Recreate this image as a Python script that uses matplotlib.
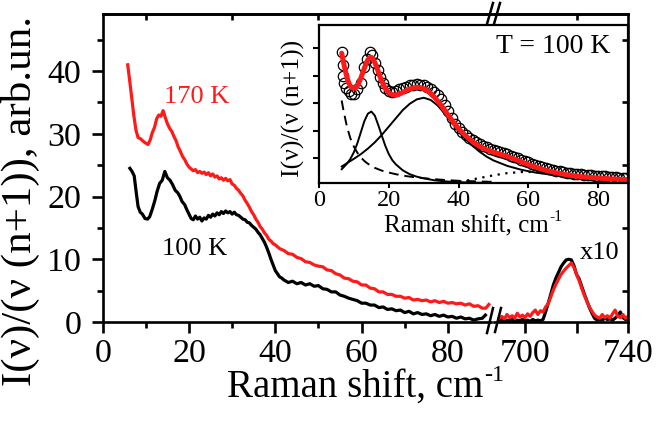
import matplotlib
matplotlib.use("Agg")
import matplotlib.pyplot as plt
from matplotlib.lines import Line2D

plt.rcParams['font.family'] = ['Liberation Serif', 'DejaVu Serif']

# ---------------- main panel data (low-frequency part) ----------------
shift_170 = [5.8, 6.3, 6.7, 7.2, 7.7, 8.2, 8.8, 9.4, 10.0, 10.5, 11.0, 11.5, 12.0, 12.5, 13.0, 13.5,
             14.0, 14.5, 15.0, 15.5, 16.0, 16.5, 17.0, 17.5, 18.0, 18.5, 19.0, 19.5, 20.0, 20.5,
             21, 21.5, 22, 22.5, 23, 23.5, 24, 24.5, 25, 25.5, 26, 26.5, 27, 27.5, 28, 28.5, 29,
             29.5, 30, 30.5, 31, 31.5, 32, 32.5, 33, 33.5, 34, 34.5, 35, 35.5, 36, 36.5, 37, 37.5,
             38, 38.5, 39, 39.5, 40, 41, 42, 43, 44, 45, 46, 47, 48, 49, 50, 51, 52, 53, 54, 55,
             56, 57, 58, 59, 60, 61, 62, 63, 64, 65, 66, 67, 68, 69, 70, 71, 72, 73, 74, 75, 76,
             77, 78, 79, 80, 81, 82, 83, 84, 85, 86, 87, 88, 88.8, 89.5]
int_170 = [41.0, 38.2, 35.9, 33.0, 30.6, 29.4, 29.2, 28.8, 28.5, 28.3, 29.0, 30.2, 31.0, 32.4, 33.0, 32.8,
           33.7, 32.6, 31.6, 30.9, 30.4, 29.6, 28.9, 27.9, 27.2, 26.4, 25.9, 25.2, 24.7, 24.4,
           24.1, 24.3, 23.8, 24.0, 23.7, 23.9, 23.5, 23.8, 23.3, 23.6, 23.1, 23.3, 22.8, 23.0, 22.6,
           22.9, 22.5, 22.7, 22.0, 21.8, 21.3, 21.0, 20.5, 20.1, 19.4, 18.9, 18.3, 17.6, 17.1, 16.4,
           15.9, 15.2, 14.8, 14.2, 13.8, 13.2, 12.9, 12.5, 12.3, 11.7, 11.4, 10.9, 10.8, 10.3, 10.1,
           9.6, 9.5, 9.1, 8.9, 8.8, 8.3, 8.2, 7.7, 7.5, 7.0, 6.9, 6.5, 6.4, 5.9, 5.9, 5.4, 5.3, 4.8,
           4.8, 4.4, 4.4, 4.1, 4.1, 3.8, 3.9, 3.5, 3.6, 3.4, 3.5, 3.2, 3.4, 3.1, 3.3, 3.0, 3.1, 2.9,
           3.0, 2.7, 2.9, 2.5, 2.6, 2.2, 2.2, 2.8]

shift_100 = [6.3, 6.8, 7.3, 7.8, 8.2, 8.7, 9.2, 9.8, 10.4, 10.9, 11.5, 12.1, 12.6, 13.2, 13.8, 14.4,
             15.0, 15.6, 16.2, 16.8, 17.4, 17.9, 18.4, 19.0, 19.5, 20.0, 20.5, 21.0, 21.5, 22, 22.5,
             23, 23.5, 24, 24.5, 25, 25.5, 26, 26.5, 27, 27.5, 28, 28.5, 29, 29.5, 30, 30.5, 31,
             31.5, 32, 32.5, 33, 33.5, 34, 34.5, 35, 35.5, 36, 36.5, 37, 37.5, 38, 38.5, 39, 39.5,
             40, 40.5, 41, 41.5, 42, 43, 44, 45, 46, 47, 48, 49, 50, 51, 52, 53, 54, 55, 56, 57,
             58, 59, 60, 61, 62, 63, 64, 65, 66, 67, 68, 69, 70, 71, 72, 73, 74, 75, 76, 77, 78,
             79, 80, 81, 82, 83, 84, 85, 86, 87, 88, 88.7]
int_100 = [24.5, 24.0, 23.3, 20.5, 18.4, 17.5, 17.2, 16.5, 16.4, 16.8, 18.0, 19.4, 20.8, 22.1, 22.6,
           24.0, 23.0, 22.6, 21.9, 21.0, 20.6, 20.0, 19.2, 18.7, 17.9, 17.2, 16.5, 16.3, 16.9, 16.4,
           16.7, 16.1, 16.6, 16.4, 17.0, 16.7, 17.2, 16.9, 17.4, 17.1, 17.6, 17.3, 17.7, 17.4, 17.6,
           17.2, 17.5, 17.1, 17.0, 16.7, 16.4, 16.3, 15.9, 15.8, 15.4, 15.1, 14.8, 14.3, 13.9, 13.3,
           12.7, 11.9, 11.0, 10.0, 9.1, 8.2, 7.7, 7.2, 7.0, 6.7, 6.3, 6.5, 6.1, 6.3, 5.9, 6.1, 5.7,
           5.8, 5.3, 5.2, 4.8, 4.8, 4.3, 4.1, 3.8, 3.6, 3.4, 3.0, 3.0, 2.7, 2.7, 2.3, 2.4, 2.0, 2.1,
           1.8, 1.9, 1.5, 1.7, 1.3, 1.5, 1.2, 1.3, 1.0, 1.2, 0.9, 1.1, 0.8, 0.9, 0.6, 0.8, 0.5, 0.6,
           0.3, 0.5, 0.6, 1.1]

# ---------------- main panel data (high-frequency part, x10) ----------------
shift_hi = list(range(690, 741))
int_170_hi = [0.6, 0.9, 0.5, 1.2, 0.7, 1.0, 0.6, 1.4, 0.8, 1.1, 0.7, 1.3, 0.9, 1.5, 1.9, 1.2, 1.8,
              1.6, 2.4, 2.9, 4.0, 5.1, 6.0, 6.8, 7.6, 8.1, 8.6, 9.0, 9.4, 8.7, 7.6, 6.6, 5.4, 4.3,
              3.3, 2.4, 1.7, 1.1, 0.8, 0.6, 1.2, 0.7, 1.0, 0.6, 1.3, 1.9, 0.9, 0.7, 1.2, 0.6, 0.9]
int_100_hi = [0.2, 0.4, 0.1, 0.3, 0.2, 0.4, 0.1, 0.3, 0.2, 0.4, 0.2, 0.3, 0.1, 0.4, 0.2, 0.3, 0.2,
              0.4, 1.6, 3.0, 4.4, 5.9, 7.0, 7.9, 8.8, 9.4, 9.9, 10.0, 9.9, 9.0, 7.6, 6.9, 5.7, 4.5,
              3.4, 2.3, 1.4, 0.6, 0.3, 0.4, 0.3, 0.6, 0.4, 0.5, 0.3, 0.6, 1.0, 1.6, 0.7, 0.4, 0.5]

# ---------------- inset data (T = 100 K) ----------------
exp_x = [6.5, 6.8, 7.0, 7.3, 7.8, 8.5, 9.2, 10, 11, 12, 13, 13.8, 14.5, 15.3, 16, 16.8, 17.5, 18.3,
         19, 20, 21, 22, 23, 24, 25, 26, 27, 28, 29, 30, 31, 32, 33, 34, 35, 36, 37, 38, 39, 40,
         41, 42, 43, 44, 45, 46, 47, 48, 49, 50, 51, 52, 53, 54, 55, 56, 57, 58, 59, 60, 61, 62,
         63, 64, 65, 66, 67, 68, 69, 70, 71, 72, 73, 74, 75, 76, 77, 78, 79, 80, 81, 82, 83, 84,
         85, 86, 87, 88]
exp_y = [4.85, 4.4, 4.0, 3.75, 3.55, 3.45, 3.35, 3.35, 3.5, 3.75, 4.3, 4.6, 4.85, 4.75, 4.45, 4.2,
         3.95, 3.75, 3.55, 3.45, 3.4, 3.45, 3.5, 3.55, 3.6, 3.65, 3.68, 3.7, 3.68, 3.65, 3.6, 3.5,
         3.4, 3.3, 3.15, 2.95, 2.7, 2.45, 2.25, 2.1, 1.95, 1.85, 1.75, 1.68, 1.6, 1.52, 1.45, 1.4,
         1.35, 1.3, 1.27, 1.24, 1.2, 1.15, 1.1, 1.05, 1.0, 0.95, 0.9, 0.85, 0.8, 0.76, 0.72, 0.68,
         0.64, 0.6, 0.57, 0.54, 0.52, 0.5, 0.48, 0.46, 0.44, 0.42, 0.41, 0.4, 0.39, 0.38, 0.37,
         0.36, 0.35, 0.34, 0.33, 0.32, 0.31, 0.3, 0.29, 0.28]

fit_x = [6.5, 7, 7.5, 8, 8.5, 9, 9.5, 10, 10.5, 11, 11.5, 12, 12.5, 13, 13.5, 14, 14.5, 15, 15.5,
         16, 16.5, 17, 17.5, 18, 19, 20, 21, 22, 23, 24, 25, 26, 27, 28, 29, 30, 31, 32, 33, 34,
         35, 36, 37, 38, 39, 40, 42, 44, 46, 48, 50, 52, 54, 56, 58, 60, 62, 65, 68, 71, 75, 80,
         85, 88.3]
fit_y = [4.82, 4.5, 4.2, 3.95, 3.75, 3.62, 3.56, 3.54, 3.57, 3.64, 3.76, 3.92, 4.1, 4.28, 4.45,
         4.58, 4.66, 4.67, 4.6, 4.48, 4.32, 4.14, 3.96, 3.8, 3.54, 3.38, 3.31, 3.3, 3.33, 3.39,
         3.46, 3.52, 3.56, 3.58, 3.57, 3.53, 3.46, 3.36, 3.23, 3.08, 2.92, 2.75, 2.57, 2.4, 2.23,
         2.08, 1.82, 1.6, 1.43, 1.31, 1.22, 1.14, 1.06, 0.97, 0.87, 0.77, 0.68, 0.56, 0.47, 0.4,
         0.33, 0.28, 0.24, 0.22]

peak15_x = [6.5, 8, 9, 10, 11, 12, 13, 14, 15, 16, 17, 18, 19, 20, 21, 22, 24, 26, 28, 30, 33, 36,
            40, 45, 50]
peak15_y = [0.6, 0.8, 0.98, 1.22, 1.55, 1.95, 2.35, 2.62, 2.7, 2.55, 2.2, 1.82, 1.45, 1.15, 0.93,
            0.78, 0.56, 0.42, 0.33, 0.27, 0.2, 0.16, 0.13, 0.11, 0.1]

broad_x = [6.5, 8, 10, 12, 14, 16, 18, 20, 22, 24, 26, 28, 30, 32, 34, 36, 38, 40, 42, 44, 46, 48,
           50, 54, 58, 62, 66, 70, 75, 80, 85, 88.3]
broad_y = [0.7, 0.82, 0.98, 1.15, 1.35, 1.58, 1.85, 2.15, 2.45, 2.75, 2.98, 3.14, 3.2, 3.12, 2.92,
           2.62, 2.3, 1.98, 1.7, 1.45, 1.24, 1.06, 0.92, 0.72, 0.58, 0.48, 0.41, 0.35, 0.3, 0.26,
           0.23, 0.21]

qe_x = [6.5, 7, 7.5, 8, 9, 10, 11, 12, 13, 14, 16, 18, 20, 22, 25, 28, 32, 36, 40, 45, 50]
qe_y = [3.1, 2.75, 2.45, 2.15, 1.72, 1.42, 1.2, 1.03, 0.9, 0.8, 0.65, 0.55, 0.48, 0.42, 0.35, 0.3,
        0.25, 0.21, 0.18, 0.16, 0.14]

dot_x = [38, 42, 46, 50, 54, 58, 62, 66, 70, 75, 80, 85, 88.3]
dot_y = [0.12, 0.18, 0.28, 0.38, 0.46, 0.5, 0.5, 0.47, 0.42, 0.36, 0.3, 0.25, 0.22]

main_xticks = [0, 20, 40, 60, 80]
hi_xticks = [700, 720, 740]
hi_xticklabels = ['700', '', '740']
main_yticks = [0, 10, 20, 30, 40]
inset_xticks = [0, 20, 40, 60, 80]

# ---------------- layout helpers (pixel -> figure fraction) ----------------
W, H = 656, 434
def fx(px):
    return px / W
def fy(py):
    return 1 - py / H

fig = plt.figure(figsize=(W / 100, H / 100), dpi=100)

L1, R1, R2, L2 = 102.7, 491, 628, 494
TOP, BOT = 14, 322
ax1 = fig.add_axes([fx(L1), fy(BOT), fx(R1) - fx(L1), fy(TOP) - fy(BOT)], zorder=1)
ax2 = fig.add_axes([fx(L2), fy(BOT), fx(R2) - fx(L2), fy(TOP) - fy(BOT)], zorder=3)
axin = fig.add_axes([fx(319), fy(183), fx(628) - fx(319), fy(25) - fy(183)], zorder=2)
ax2.patch.set_alpha(0)

SPW = 1.9
red = '#ff1a1a'
TICKFS = 24.5

# --- low-frequency panel
ax1.plot(shift_100, int_100, color='black', lw=2.3, solid_joinstyle='round')
ax1.plot(shift_170, int_170, color=red, lw=2.3, solid_joinstyle='round')
ax1.set_xlim(0, 90)
ax1.set_ylim(0, 49.1)
ax1.set_xticks(main_xticks)
ax1.set_xticks([10, 30, 50, 70], minor=True)
ax1.set_yticks(main_yticks)
ax1.set_yticks([5, 15, 25, 35, 45], minor=True)
ax1.tick_params(which='major', direction='out', length=8, width=SPW, labelsize=TICKFS, pad=4,
                top=False, right=False)
ax1.tick_params(which='minor', direction='out', length=4.5, width=SPW, top=False, right=False)
ax1.tick_params(axis='y', pad=7.5)
ax1.spines['right'].set_visible(False)
for s in ['left', 'bottom', 'top']:
    ax1.spines[s].set_linewidth(SPW)
sec1 = ax1.secondary_xaxis('top')
sec1.set_xticks([10, 30, 50, 70])
sec1.tick_params(direction='in', length=4.5, width=SPW, labeltop=False)
sec1.spines['top'].set_linewidth(SPW)

ax1.text(21.8, 35.9, '170 K', color=red, fontsize=19, ha='center', va='center')
ax1.text(21.3, 11.6, '100 K', color='black', fontsize=19, ha='center', va='center')

# --- high-frequency panel (x10)
ax2.plot(shift_hi, int_100_hi, color='black', lw=2.3)
ax2.plot(shift_hi, int_170_hi, color=red, lw=2.3)
ax2.set_xlim(700 - 31 / 2.575, 740)
ax2.set_ylim(0, 49.1)
ax2.set_xticks(hi_xticks, labels=hi_xticklabels)
ax2.yaxis.set_ticks_position('right')
ax2.set_yticks([5, 15, 25, 35, 45])
ax2.tick_params(axis='x', direction='out', length=8, width=SPW, labelsize=TICKFS, pad=4)
ax2.tick_params(axis='y', direction='in', length=4.5, width=SPW, labelright=False, labelleft=False)
ax2.spines['left'].set_visible(False)
for s in ['right', 'bottom', 'top']:
    ax2.spines[s].set_linewidth(SPW)
sec2 = ax2.secondary_xaxis('top')
sec2.set_xticks([720])
sec2.tick_params(direction='in', length=4.5, width=SPW, labeltop=False)
sec2.spines['top'].set_linewidth(SPW)
ax2.text(729.1, 11.0, 'x10', fontsize=19, ha='center', va='center')

# --- inset
axin.plot(exp_x, exp_y, linestyle='none', marker='o', markersize=7.5, markerfacecolor='none',
          markeredgecolor='black', markeredgewidth=0.9)
axin.plot(peak15_x, peak15_y, color='black', lw=1.4)
axin.plot(broad_x, broad_y, color='black', lw=1.4)
axin.plot(qe_x, qe_y, color='black', lw=1.4, linestyle=(0, (5, 3)))
axin.plot(dot_x, dot_y, color='black', lw=1.6, linestyle=(0, (1, 2.5)))
axin.plot(fit_x, fit_y, color=red, lw=3.6, solid_capstyle='round')
axin.set_xlim(0, 309 / 3.49)
axin.set_ylim(0.1, 0.1 + 158 / 27.5)
axin.set_xticks(inset_xticks)
axin.set_yticks([1, 2, 3, 4, 5])
axin.tick_params(axis='x', direction='out', length=3.5, width=1.5, labelsize=17.5, pad=1.5)
axin.tick_params(axis='y', direction='out', length=4.5, width=1.5, labelleft=False)
for s in axin.spines.values():
    s.set_linewidth(1.6)
axin.text(67, 5.05, 'T = 100 K', fontsize=20, ha='center', va='center')

# --- axis labels with a plain-hyphen "-1" superscript
def label_with_sup(xc, ybase, base, sup, fs):
    t = fig.text(0, 0, base, fontsize=fs)
    s = fig.text(0, 0, sup, fontsize=fs * 0.62)
    r = fig.canvas.get_renderer()
    wb = t.get_window_extent(r).width
    ws = s.get_window_extent(r).width
    x0 = xc - (wb + ws) / 2
    t.set_position((fx(x0), fy(ybase)))
    t.set_va('baseline')
    s.set_position((fx(x0 + wb + 1), fy(ybase - fs * 1.389 * 0.42)))
    s.set_va('baseline')

label_with_sup(365, 397, 'Raman shift, cm', '-1', 28)
label_with_sup(473, 232, 'Raman shift, cm', '-1', 18)

fig.text(fx(20), fy(201), 'I(ν)/(ν (n+1)), arb.un.', fontsize=31, rotation=90,
         ha='center', va='center')
fig.text(fx(293), fy(108), 'I(ν)/(ν (n+1))', fontsize=18.5, rotation=90, ha='center', va='center')

# --- axis break marks
for (x0, y0, x1, y1) in [(487, 333, 493, 308), (495, 332, 501, 308),
                         (487, 24, 493, 3), (494, 24, 500, 3)]:
    fig.add_artist(Line2D([fx(x0), fx(x1)], [fy(y0), fy(y1)], transform=fig.transFigure,
                          color='black', lw=1.8, zorder=10))

fig.savefig('out.png', dpi=100)
